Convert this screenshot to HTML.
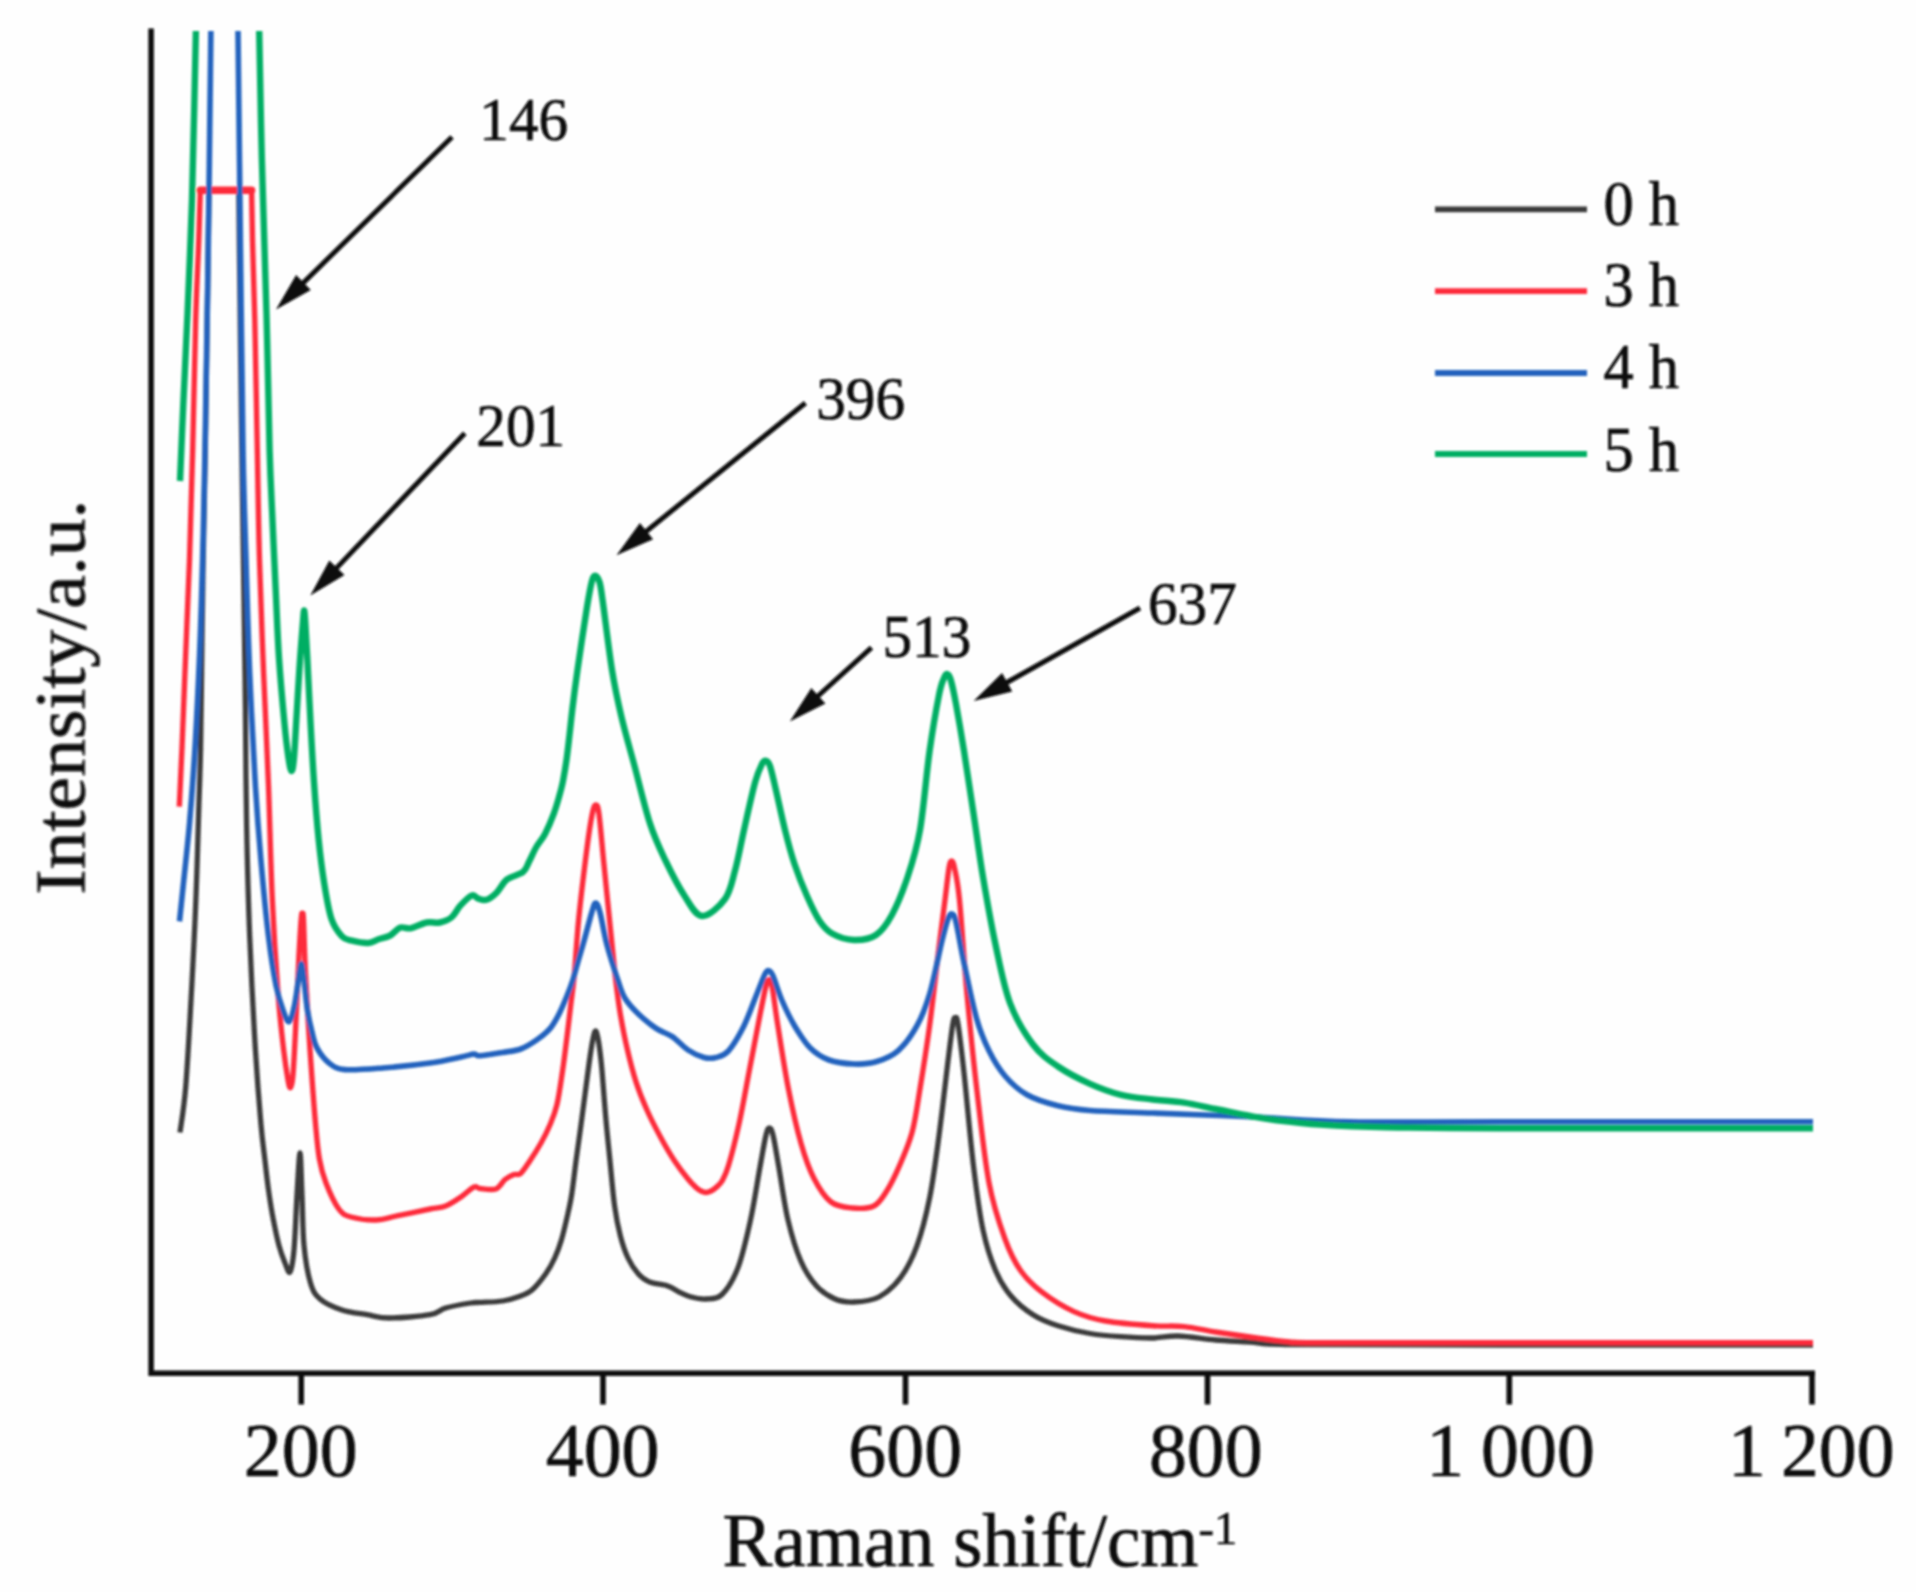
<!DOCTYPE html>
<html lang="en"><head><meta charset="utf-8"><title>Raman spectra</title>
<style>html,body{margin:0;padding:0;background:#fefefe;overflow:hidden}svg{display:block}</style>
</head><body>
<svg width="1916" height="1592" viewBox="0 0 1916 1592">
<defs><filter id="soft" x="0" y="0" width="100%" height="100%" filterUnits="userSpaceOnUse"><feGaussianBlur stdDeviation="0.9"/></filter></defs>
<rect width="1916" height="1592" fill="#fefefe"/>
<g filter="url(#soft)">
<g fill="none" stroke-linejoin="round" stroke-linecap="butt">
<path d="M180.0 1132.5C180.9 1124.9 183.8 1110.2 185.7 1087.0C187.6 1063.8 189.7 1024.3 191.4 993.0C193.1 961.7 194.7 930.4 195.9 899.0C197.2 867.6 198.1 829.9 198.9 804.7C199.7 779.5 200.1 773.1 200.6 748.0C201.1 722.9 201.4 685.3 201.8 654.0C202.2 622.7 202.6 594.0 203.2 560.0C203.8 526.0 204.5 501.7 205.3 450.0C206.1 398.3 207.6 292.8 208.2 250.0C208.8 207.2 208.8 202.5 208.9 193.0M238.8 193.0C238.9 202.5 238.9 207.2 239.4 250.0C239.9 292.8 241.0 391.7 241.8 450.0C242.6 508.3 243.4 556.7 244.0 600.0C244.6 643.3 245.0 672.8 245.4 710.0C245.8 747.2 245.9 785.8 246.6 823.5C247.3 861.2 248.2 898.8 249.7 936.5C251.2 974.2 253.5 1018.1 255.4 1049.5C257.3 1080.9 259.4 1106.5 261.0 1124.7C262.6 1143.0 263.6 1148.1 264.8 1159.0C266.1 1169.9 267.1 1180.2 268.5 1190.0C269.9 1199.8 271.2 1208.7 273.0 1218.0C274.8 1227.3 277.0 1238.1 279.0 1245.6C281.0 1253.1 283.2 1258.6 285.0 1263.0C286.8 1267.4 288.5 1274.2 290.0 1272.0C291.5 1269.8 292.8 1262.8 294.0 1250.0C295.2 1237.2 296.0 1211.2 297.0 1195.0C298.0 1178.8 299.2 1153.0 300.0 1153.0C300.8 1153.0 301.3 1179.6 302.0 1195.0C302.7 1210.4 302.6 1230.9 304.0 1245.6C305.4 1260.3 307.8 1274.1 310.5 1283.0C313.2 1291.9 314.8 1294.5 320.0 1299.0C325.2 1303.5 334.2 1307.4 342.0 1310.0C349.8 1312.6 359.2 1313.4 367.0 1314.7C374.8 1316.0 378.5 1318.0 389.0 1318.0C399.5 1318.0 420.6 1316.4 430.0 1314.7C439.4 1313.0 438.8 1310.0 445.6 1308.0C452.4 1306.0 465.0 1303.9 470.7 1303.0C476.4 1302.1 474.7 1302.7 480.0 1302.4C485.3 1302.1 496.2 1302.0 502.6 1301.0C509.0 1300.0 513.6 1298.5 518.5 1296.7C523.4 1294.9 527.5 1293.8 532.0 1290.0C536.5 1286.2 541.8 1279.3 545.6 1274.0C549.4 1268.7 552.1 1263.7 554.7 1258.0C557.3 1252.3 559.4 1246.8 561.4 1240.0C563.4 1233.2 565.3 1225.0 567.0 1217.5C568.7 1210.0 570.1 1204.4 571.6 1195.0C573.1 1185.6 574.5 1172.3 576.0 1161.0C577.5 1149.7 579.2 1138.3 580.7 1127.0C582.2 1115.7 583.7 1104.3 585.2 1093.0C586.7 1081.7 588.4 1068.0 589.7 1059.0C591.0 1050.0 592.0 1043.5 593.0 1038.8C594.0 1034.1 594.8 1030.3 595.8 1031.0C596.8 1031.7 597.8 1036.4 598.8 1043.0C599.8 1049.6 600.9 1058.4 602.0 1070.5C603.1 1082.6 604.3 1100.6 605.6 1115.7C606.9 1130.8 608.5 1146.0 610.0 1161.0C611.5 1176.0 612.9 1193.6 614.6 1206.0C616.3 1218.4 618.1 1226.9 620.3 1235.6C622.5 1244.3 625.0 1251.6 628.0 1258.0C631.0 1264.4 634.8 1270.0 638.4 1274.0C642.0 1278.0 644.8 1280.0 649.7 1282.0C654.6 1284.0 662.9 1284.2 667.8 1285.9C672.7 1287.6 675.2 1290.2 679.0 1292.0C682.8 1293.8 685.9 1295.5 690.4 1296.7C694.9 1297.9 700.7 1299.4 706.0 1299.0C711.3 1298.6 716.7 1299.7 722.0 1294.5C727.3 1289.3 733.2 1280.0 738.0 1267.6C742.8 1255.2 746.8 1236.8 750.5 1220.0C754.2 1203.2 757.4 1181.2 760.0 1167.0C762.6 1152.8 764.4 1141.5 766.0 1135.0C767.6 1128.5 768.2 1127.8 769.4 1127.8C770.6 1127.8 771.4 1128.5 773.0 1135.0C774.6 1141.5 776.3 1152.8 778.8 1167.0C781.3 1181.2 784.3 1204.3 788.0 1220.0C791.7 1235.7 796.0 1250.0 800.8 1261.0C805.5 1272.0 810.8 1279.7 816.5 1286.0C822.2 1292.3 828.8 1296.3 835.0 1299.0C841.2 1301.7 846.7 1302.3 854.0 1302.0C861.3 1301.7 871.2 1301.2 879.0 1297.0C886.8 1292.8 894.7 1285.6 901.0 1277.0C907.3 1268.4 912.2 1258.8 917.0 1245.6C921.8 1232.4 925.9 1216.3 929.6 1198.0C933.3 1179.7 935.9 1159.1 939.0 1135.6C942.1 1112.1 946.2 1075.8 948.5 1057.0C950.8 1038.2 951.9 1029.5 953.0 1023.0C954.1 1016.5 954.6 1017.6 955.4 1017.8C956.2 1018.0 956.6 1014.8 958.0 1024.0C959.4 1033.2 961.4 1049.0 964.0 1072.8C966.6 1096.6 970.4 1140.8 973.6 1167.0C976.8 1193.2 979.3 1212.7 983.0 1230.0C986.7 1247.3 990.9 1259.7 995.6 1270.7C1000.3 1281.7 1004.8 1288.7 1011.0 1296.0C1017.2 1303.3 1025.2 1309.8 1033.0 1314.7C1040.8 1319.7 1048.5 1322.6 1058.0 1325.7C1067.5 1328.8 1079.5 1331.7 1090.0 1333.5C1100.5 1335.3 1110.5 1336.0 1121.0 1336.7C1131.5 1337.5 1143.2 1338.1 1152.7 1338.0C1162.2 1337.9 1167.5 1335.7 1178.0 1336.0C1188.5 1336.3 1203.5 1339.0 1215.5 1340.0C1227.5 1341.0 1237.1 1341.2 1250.0 1342.0C1262.9 1342.8 1251.3 1344.1 1293.0 1344.6C1334.7 1345.1 1413.3 1344.9 1500.0 1345.0C1586.7 1345.1 1760.8 1345.0 1813.0 1345.0" stroke="#3b3b3b" stroke-width="5.3"/>
<path d="M179.3 806.6C179.8 796.8 180.9 773.4 182.0 748.0C183.1 722.6 184.4 685.3 185.7 654.0C186.9 622.7 188.3 594.0 189.5 560.0C190.7 526.0 191.7 490.0 192.7 450.0C193.7 410.0 194.7 355.0 195.7 320.0C196.7 285.0 198.0 261.6 198.8 240.0C199.6 218.4 200.1 198.5 200.3 190.2L251.6 190.2L252.5 240.0C252.9 253.3 254.0 285.0 254.8 320.0C255.6 355.0 256.5 410.0 257.3 450.0C258.1 490.0 258.4 522.8 259.5 560.0C260.6 597.2 262.1 635.3 263.6 673.0C265.1 710.7 267.1 748.3 268.5 786.0C269.9 823.7 270.7 864.5 272.3 899.0C273.9 933.5 276.1 967.9 278.0 993.0C279.9 1018.1 281.9 1035.0 283.6 1049.5C285.3 1064.0 286.9 1073.7 288.0 1080.0C289.1 1086.3 289.7 1088.3 290.5 1087.5C291.3 1086.7 292.2 1084.5 293.0 1075.0C293.8 1065.5 294.5 1050.6 295.5 1030.6C296.5 1010.6 298.0 973.8 299.0 955.0C300.0 936.2 300.7 924.8 301.3 918.0C301.9 911.2 302.0 913.7 302.4 914.0C302.8 914.3 303.0 910.0 303.5 920.0C304.0 930.0 304.4 952.4 305.5 974.0C306.6 995.6 308.3 1024.4 310.0 1049.5C311.7 1074.6 314.0 1106.5 315.6 1124.7C317.2 1143.0 317.7 1149.3 319.4 1159.0C321.1 1168.7 322.8 1174.7 326.0 1183.0C329.2 1191.3 334.6 1203.3 338.8 1209.0C343.0 1214.7 344.8 1215.2 351.0 1217.0C357.2 1218.8 368.2 1220.2 376.0 1220.0C383.8 1219.8 389.0 1217.5 398.0 1215.7C407.0 1213.9 422.1 1210.6 430.0 1209.0C437.9 1207.4 440.4 1208.0 445.6 1206.0C450.8 1204.0 456.3 1200.2 461.0 1197.0C465.7 1193.8 470.8 1188.4 474.0 1187.0C477.2 1185.6 476.4 1188.2 480.0 1188.5C483.6 1188.8 491.6 1190.5 495.8 1189.0C500.0 1187.5 502.0 1181.9 505.0 1179.5C508.0 1177.1 511.4 1175.6 514.0 1174.6C516.6 1173.6 518.1 1175.7 520.7 1173.4C523.3 1171.1 526.4 1166.1 529.8 1161.0C533.2 1155.9 537.6 1149.0 541.0 1143.0C544.4 1137.0 547.3 1131.2 550.0 1124.8C552.7 1118.4 554.9 1113.5 557.0 1104.4C559.1 1095.4 560.9 1081.8 562.6 1070.5C564.3 1059.2 565.6 1047.8 567.0 1036.6C568.4 1025.3 569.8 1013.3 571.0 1003.0C572.2 992.7 573.0 989.2 574.3 975.0C575.6 960.8 576.7 939.2 578.8 918.0C580.9 896.8 584.8 865.1 587.0 847.8C589.2 830.5 590.8 821.1 592.2 814.0C593.7 806.9 594.6 805.0 595.7 805.0C596.8 805.0 597.6 804.0 599.0 814.0C600.4 824.0 602.0 845.0 604.0 864.7C606.0 884.5 608.8 913.3 610.8 932.5C612.8 951.7 614.1 966.4 615.7 980.0C617.3 993.6 618.4 1002.7 620.3 1014.0C622.2 1025.3 624.4 1036.6 627.0 1047.9C629.6 1059.2 632.6 1071.3 636.0 1081.8C639.4 1092.3 643.2 1101.6 647.4 1111.0C651.6 1120.4 656.5 1129.7 661.0 1138.0C665.5 1146.3 670.1 1154.2 674.6 1161.0C679.1 1167.8 684.4 1174.6 688.0 1179.0C691.6 1183.4 693.8 1185.5 696.0 1187.5C698.2 1189.5 699.8 1190.5 701.5 1191.3C703.2 1192.1 704.4 1192.5 706.0 1192.5C707.6 1192.5 709.3 1191.8 711.0 1191.0C712.7 1190.2 714.2 1189.2 716.0 1187.5C717.8 1185.8 719.9 1184.7 722.0 1181.0C724.1 1177.3 725.6 1175.3 728.5 1165.6C731.4 1155.9 735.6 1139.4 739.2 1123.0C742.8 1106.6 746.4 1085.5 750.0 1067.0C753.6 1048.5 757.9 1025.3 760.6 1011.8C763.3 998.3 764.6 991.4 766.0 986.0C767.4 980.6 768.0 979.7 769.0 979.7C770.0 979.7 770.5 978.5 772.0 986.0C773.5 993.5 775.0 1007.5 777.7 1024.6C780.4 1041.7 784.5 1068.8 788.4 1088.7C792.3 1108.6 796.9 1129.0 801.2 1144.0C805.5 1159.0 809.0 1168.8 814.0 1178.5C819.0 1188.2 824.6 1197.1 831.0 1202.0C837.4 1206.9 845.4 1207.3 852.5 1208.0C859.6 1208.7 868.1 1208.8 873.8 1206.0C879.5 1203.2 882.4 1197.7 886.7 1191.0C891.0 1184.3 895.2 1175.5 899.5 1165.6C903.8 1155.7 908.9 1144.3 912.3 1131.5C915.7 1118.7 917.1 1106.3 920.0 1088.7C922.9 1071.1 926.4 1049.3 929.6 1025.7C932.8 1002.1 936.4 968.0 939.0 947.0C941.6 926.0 943.3 913.2 945.0 900.0C946.7 886.8 947.9 874.5 949.0 868.0C950.1 861.5 950.7 861.0 951.6 861.0C952.5 861.0 953.2 861.5 954.5 868.0C955.8 874.5 957.4 879.0 959.5 900.0C961.6 921.0 964.1 962.6 967.0 994.0C969.9 1025.4 973.0 1057.0 976.7 1088.5C980.4 1120.0 984.3 1157.6 989.0 1182.7C993.7 1207.8 999.7 1224.3 1005.0 1239.0C1010.3 1253.7 1014.4 1261.8 1020.7 1270.7C1027.0 1279.7 1033.8 1285.9 1042.7 1292.7C1051.6 1299.5 1063.5 1306.9 1074.0 1311.6C1084.5 1316.3 1092.4 1318.7 1105.5 1321.0C1118.6 1323.3 1139.6 1324.8 1152.7 1325.7C1165.8 1326.6 1173.5 1325.5 1184.0 1326.6C1194.5 1327.6 1204.5 1330.3 1215.5 1332.0C1226.5 1333.7 1237.6 1335.3 1250.0 1337.0C1262.4 1338.7 1276.7 1341.0 1290.0 1342.0C1303.3 1343.0 1295.0 1342.7 1330.0 1342.8C1365.0 1342.9 1419.5 1342.8 1500.0 1342.8C1580.5 1342.8 1760.8 1342.8 1813.0 1342.8" stroke="#fd2a3b" stroke-width="5.4"/>
<path d="M200.3 190.2H251.6" stroke="#fd2a3b" stroke-width="7.4" stroke-linecap="round"/>
<path d="M179.5 921.4C180.2 914.5 182.1 896.3 183.8 880.0C185.5 863.7 187.6 845.5 189.5 823.5C191.4 801.5 193.3 776.2 195.0 748.0C196.7 719.8 198.3 685.3 199.6 654.0C200.9 622.7 201.7 594.0 202.6 560.0C203.5 526.0 204.1 501.7 205.0 450.0C205.9 398.3 207.2 319.8 208.2 250.0C209.2 180.2 210.4 67.5 210.9 31.0M238.0 31.0C238.4 67.5 239.7 180.2 240.5 250.0C241.3 319.8 242.1 398.3 243.0 450.0C243.9 501.7 244.9 522.8 246.0 560.0C247.1 597.2 248.1 635.3 249.7 673.0C251.3 710.7 253.5 754.7 255.4 786.0C257.3 817.3 258.8 835.9 261.0 861.0C263.2 886.1 266.0 915.8 268.5 936.5C271.0 957.2 273.5 973.0 276.0 985.5C278.5 998.0 281.4 1005.8 283.6 1011.8C285.8 1017.8 287.4 1022.9 289.3 1021.5C291.2 1020.1 293.1 1012.0 294.8 1003.7C296.5 995.5 298.4 978.5 299.5 972.0C300.6 965.5 300.9 962.8 301.7 964.4C302.5 966.0 303.2 974.1 304.2 981.7C305.1 989.3 306.1 1001.6 307.4 1010.0C308.7 1018.4 310.4 1025.7 312.0 1032.0C313.6 1038.3 314.0 1042.5 316.8 1047.7C319.6 1052.9 324.3 1059.3 329.0 1063.0C333.7 1066.7 336.1 1068.8 345.0 1069.6C353.9 1070.4 368.5 1069.1 382.7 1068.0C396.9 1066.9 416.9 1064.8 430.0 1063.0C443.1 1061.2 454.0 1058.5 461.3 1057.0C468.6 1055.5 470.9 1054.2 474.0 1054.0C477.1 1053.8 475.2 1056.1 480.0 1055.8C484.8 1055.5 495.8 1053.5 502.6 1052.4C509.4 1051.3 515.0 1051.1 520.7 1049.0C526.4 1046.9 531.7 1043.4 536.6 1040.0C541.5 1036.6 546.3 1032.9 550.0 1028.6C553.7 1024.3 556.2 1019.5 559.0 1014.0C561.8 1008.5 564.7 1001.5 567.0 995.8C569.3 990.1 570.9 986.0 572.8 980.0C574.7 974.0 576.6 966.5 578.5 960.0C580.4 953.5 581.8 948.9 584.0 941.0C586.2 933.1 589.8 918.9 591.7 912.6C593.7 906.3 594.3 903.0 595.7 903.0C597.1 903.0 598.3 906.3 600.0 912.6C601.7 918.9 604.0 932.8 606.0 941.0C608.0 949.2 610.0 955.4 612.0 962.0C614.0 968.6 615.9 974.5 618.0 980.5C620.1 986.5 621.4 992.4 624.8 998.0C628.2 1003.6 633.1 1008.9 638.4 1014.0C643.7 1019.1 650.9 1024.8 656.5 1028.6C662.1 1032.4 667.0 1033.0 672.3 1036.6C677.5 1040.2 682.7 1046.5 688.0 1050.0C693.3 1053.5 699.3 1056.2 704.0 1057.5C708.7 1058.8 711.9 1058.6 716.0 1057.5C720.1 1056.4 723.8 1056.1 728.5 1050.8C733.2 1045.5 739.3 1035.2 744.0 1025.7C748.7 1016.2 753.3 1002.6 756.8 994.0C760.3 985.4 763.0 977.9 765.0 974.0C767.0 970.1 767.5 970.4 768.8 970.7C770.1 971.0 770.8 971.0 773.0 976.0C775.2 981.0 778.4 992.2 782.0 1000.5C785.6 1008.8 789.8 1017.8 794.5 1025.7C799.2 1033.6 804.2 1042.0 810.0 1047.7C815.8 1053.4 821.7 1057.3 829.0 1060.0C836.3 1062.7 846.2 1063.7 854.0 1064.0C861.8 1064.3 868.7 1064.0 876.0 1061.8C883.3 1059.6 891.2 1056.8 898.0 1050.8C904.8 1044.8 911.7 1035.2 917.0 1025.7C922.3 1016.2 925.4 1008.1 929.6 994.0C933.8 979.9 938.9 953.3 942.0 940.8C945.1 928.3 946.3 923.5 948.0 919.0C949.7 914.5 950.7 913.5 952.0 914.0C953.3 914.5 954.0 913.9 956.0 922.0C958.0 930.1 960.5 946.6 964.0 962.8C967.5 979.0 972.5 1004.3 976.7 1019.0C980.9 1033.7 984.3 1041.3 989.0 1050.8C993.7 1060.3 998.7 1068.7 1005.0 1076.0C1011.3 1083.3 1018.2 1089.8 1027.0 1094.8C1035.8 1099.8 1047.5 1103.2 1058.0 1105.8C1068.5 1108.4 1074.2 1109.3 1090.0 1110.5C1105.8 1111.7 1126.0 1112.0 1152.7 1113.0C1179.4 1114.0 1217.1 1115.3 1250.0 1116.8C1282.9 1118.3 1308.3 1121.0 1350.0 1121.8C1391.7 1122.6 1422.8 1121.8 1500.0 1121.8C1577.2 1121.8 1760.8 1121.8 1813.0 1121.8" stroke="#2262bd" stroke-width="5.6"/>
<path d="M180.0 481.0C180.6 467.5 182.2 427.8 183.5 400.0C184.8 372.2 186.1 347.3 187.5 314.0C188.9 280.7 190.9 234.0 192.0 200.0C193.1 166.0 193.5 138.2 194.2 110.0C194.8 81.8 195.6 44.2 195.9 31.0M259.2 31.0C259.6 52.0 260.6 109.8 261.8 157.0C263.0 204.2 265.2 265.2 266.5 314.0C267.8 362.8 268.6 415.7 269.6 450.0C270.6 484.3 271.5 496.7 272.5 520.0C273.5 543.3 274.6 567.0 275.7 590.0C276.8 613.0 277.5 635.4 279.0 658.0C280.5 680.6 283.1 709.0 284.7 725.7C286.3 742.4 287.4 750.5 288.5 758.0C289.6 765.5 290.6 770.7 291.5 771.0C292.4 771.3 293.1 767.5 293.8 760.0C294.6 752.5 295.1 740.9 296.0 725.7C296.9 710.5 298.3 686.0 299.4 669.0C300.5 652.0 302.0 633.8 302.8 624.0C303.6 614.2 303.7 610.4 304.1 610.4C304.5 610.4 304.9 616.1 305.4 624.0C305.9 631.9 306.4 641.0 307.3 658.0C308.2 675.0 309.6 705.0 310.7 725.7C311.8 746.4 312.7 763.1 314.0 782.0C315.3 800.9 316.9 822.0 318.6 839.0C320.3 856.0 322.2 870.8 324.3 884.0C326.4 897.2 328.4 909.8 331.3 918.5C334.2 927.2 338.6 932.7 342.0 936.4C345.4 940.1 347.6 939.6 352.0 940.7C356.4 941.8 363.8 943.2 368.2 943.0C372.6 942.8 374.9 940.5 378.5 939.3C382.1 938.1 386.4 937.5 390.0 935.6C393.6 933.7 397.0 928.8 400.4 927.6C403.8 926.4 406.2 929.1 410.6 928.3C415.0 927.4 421.8 923.5 426.7 922.5C431.6 921.5 435.7 923.4 439.8 922.5C443.9 921.6 448.1 920.2 451.5 917.4C454.9 914.6 456.9 909.4 460.3 905.7C463.7 902.0 469.1 896.6 472.0 895.4C474.9 894.2 475.4 897.7 477.8 898.4C480.2 899.1 483.4 900.8 486.6 899.8C489.8 898.8 493.4 895.9 496.8 892.5C500.2 889.1 502.6 882.8 507.0 879.4C511.4 876.0 519.3 874.9 523.0 872.0C526.7 869.1 526.8 866.0 529.0 861.8C531.2 857.6 533.6 851.6 536.3 847.0C539.0 842.4 542.1 839.6 545.0 834.0C547.9 828.4 551.5 819.8 553.8 813.6C556.1 807.4 557.5 802.4 559.0 797.0C560.5 791.6 561.8 787.2 563.0 781.0C564.2 774.8 565.4 767.7 566.5 760.0C567.6 752.3 568.5 743.7 569.5 735.0C570.5 726.3 571.2 718.8 572.5 708.0C573.8 697.2 575.1 686.8 577.5 670.0C579.9 653.2 584.6 621.7 587.0 607.0C589.4 592.3 590.4 587.2 591.7 582.0C593.0 576.8 593.7 575.7 595.0 575.7C596.3 575.7 598.2 577.8 599.5 582.0C600.8 586.2 600.6 586.3 602.7 601.0C604.8 615.7 608.9 650.7 612.0 670.0C615.1 689.3 617.8 701.3 621.5 717.0C625.2 732.7 629.2 746.2 634.0 764.0C638.8 781.8 644.7 807.4 650.0 823.6C655.3 839.8 659.9 848.9 665.7 861.0C671.5 873.1 678.6 886.8 684.6 896.0C690.6 905.2 695.3 915.5 702.0 916.0C708.7 916.5 719.5 906.5 725.0 899.0C730.5 891.5 731.8 882.2 735.0 870.7C738.2 859.2 740.7 844.7 744.0 830.0C747.3 815.3 752.0 793.7 755.0 782.7C758.0 771.7 760.2 767.6 762.0 764.0C763.8 760.4 764.7 760.5 766.0 760.8C767.3 761.1 768.4 761.3 770.0 766.0C771.6 770.7 773.2 778.3 775.7 789.0C778.2 799.7 781.9 817.5 785.0 830.0C788.1 842.5 790.8 853.0 794.5 864.0C798.2 875.0 802.8 886.5 807.0 896.0C811.2 905.5 815.4 914.8 819.6 921.0C823.8 927.2 826.3 930.3 832.0 933.5C837.7 936.7 846.7 939.8 854.0 940.0C861.3 940.2 869.7 939.2 876.0 935.0C882.3 930.8 886.7 924.4 892.0 914.7C897.3 905.0 902.9 891.1 907.6 877.0C912.3 862.9 916.3 851.0 920.0 830.0C923.7 809.0 926.4 773.5 929.6 751.0C932.8 728.5 936.6 707.2 939.0 695.0C941.4 682.8 942.7 681.5 944.0 678.0C945.3 674.5 945.9 673.8 947.0 674.0C948.1 674.2 949.0 674.0 950.5 679.0C952.0 684.0 953.8 692.0 956.0 704.0C958.2 716.0 961.1 732.7 964.0 751.0C966.9 769.3 970.4 793.0 973.6 814.0C976.8 835.0 979.3 855.2 983.0 877.0C986.7 898.8 991.1 924.0 995.6 945.0C1000.1 966.0 1003.8 986.4 1010.0 1003.0C1016.2 1019.6 1025.0 1033.9 1033.0 1044.5C1041.0 1055.1 1048.5 1060.0 1058.0 1066.5C1067.5 1073.0 1079.5 1079.1 1090.0 1083.8C1100.5 1088.5 1110.5 1092.2 1121.0 1094.8C1131.5 1097.4 1142.2 1098.2 1152.7 1099.5C1163.2 1100.8 1173.5 1101.0 1184.0 1102.6C1194.5 1104.2 1204.5 1106.8 1215.5 1109.0C1226.5 1111.2 1240.1 1114.2 1250.0 1116.0C1259.9 1117.8 1263.3 1118.6 1275.0 1120.0C1286.7 1121.4 1301.3 1123.3 1320.0 1124.5C1338.7 1125.7 1357.0 1126.6 1387.0 1127.2C1417.0 1127.8 1429.0 1128.0 1500.0 1128.2C1571.0 1128.4 1760.8 1128.2 1813.0 1128.2" stroke="#06ae63" stroke-width="6.4"/>
</g>
<g stroke="#0d0d0d" stroke-width="5.6" fill="none">
<path d="M151.1 28.5V1373.2H1815"/>
<path d="M301.2 1373.2V1404.5"/>
<path d="M603.0 1373.2V1404.5"/>
<path d="M905.5 1373.2V1404.5"/>
<path d="M1207.5 1373.2V1404.5"/>
<path d="M1509.3 1373.2V1404.5"/>
<path d="M1812.0 1373.2V1404.5"/>
</g>
<line x1="452.0" y1="137.0" x2="302.1" y2="284.0" stroke="#0d0d0d" stroke-width="5.0"/><polygon points="276.0,309.5 296.1,275.1 310.8,290.0" fill="#0d0d0d"/>
<line x1="464.8" y1="433.3" x2="335.5" y2="569.1" stroke="#0d0d0d" stroke-width="5.0"/><polygon points="310.3,595.5 329.3,560.4 344.5,574.9" fill="#0d0d0d"/>
<line x1="805.4" y1="403.0" x2="644.9" y2="532.4" stroke="#0d0d0d" stroke-width="5.0"/><polygon points="616.5,555.3 639.9,523.0 653.1,539.3" fill="#0d0d0d"/>
<line x1="871.5" y1="647.7" x2="816.9" y2="697.0" stroke="#0d0d0d" stroke-width="5.0"/><polygon points="789.8,721.5 811.3,687.9 825.4,703.5" fill="#0d0d0d"/>
<line x1="1140.0" y1="608.0" x2="1005.5" y2="683.2" stroke="#0d0d0d" stroke-width="5.0"/><polygon points="973.6,701.0 1002.1,673.1 1012.3,691.4" fill="#0d0d0d"/>
<g stroke-width="5.8" fill="none">
<path d="M1435 209.4H1587" stroke="#3b3b3b"/>
<path d="M1435 291.2H1587" stroke="#fd2a3b"/>
<path d="M1435 373.0H1587" stroke="#2262bd"/>
<path d="M1435 454.0H1587" stroke="#06ae63"/>
</g>
<g font-family="'Liberation Serif', 'Times New Roman', serif" fill="#0d0d0d" stroke="#0d0d0d" stroke-width="0.7">
<text transform="translate(1603.5 224.6) scale(0.960 1)" font-size="63.0" text-anchor="start">0 h</text>
<text transform="translate(1603.5 306.0) scale(0.960 1)" font-size="63.0" text-anchor="start">3 h</text>
<text transform="translate(1603.5 388.4) scale(0.960 1)" font-size="63.0" text-anchor="start">4 h</text>
<text transform="translate(1603.5 470.6) scale(0.960 1)" font-size="63.0" text-anchor="start">5 h</text>
<text transform="translate(479.3 139.8) scale(0.955 1)" font-size="62.0" text-anchor="start">146</text>
<text transform="translate(476.3 445.5) scale(0.955 1)" font-size="62.0" text-anchor="start">201</text>
<text transform="translate(816.2 418.8) scale(0.955 1)" font-size="62.0" text-anchor="start">396</text>
<text transform="translate(882.5 657.0) scale(0.955 1)" font-size="62.0" text-anchor="start">513</text>
<text transform="translate(1148.0 624.0) scale(0.955 1)" font-size="62.0" text-anchor="start">637</text>
<text transform="translate(300.7 1476.0) scale(0.985 1)" word-spacing="0" font-size="77.0" text-anchor="middle">200</text>
<text transform="translate(602.6 1476.0) scale(0.985 1)" word-spacing="0" font-size="77.0" text-anchor="middle">400</text>
<text transform="translate(905.2 1476.0) scale(0.985 1)" word-spacing="0" font-size="77.0" text-anchor="middle">600</text>
<text transform="translate(1205.8 1476.0) scale(0.985 1)" word-spacing="0" font-size="77.0" text-anchor="middle">800</text>
<text transform="translate(1510.5 1476.0) scale(0.985 1)" word-spacing="-2" font-size="77.0" text-anchor="middle">1 000</text>
<text transform="translate(1811.3 1476.0) scale(0.985 1)" word-spacing="-4" font-size="77.0" text-anchor="middle">1 200</text>
<text transform="translate(722.5 1566.0) scale(0.985 1)" font-size="76.0" text-anchor="start">Raman shift/cm<tspan font-size="47" dy="-22">-1</tspan></text>
<text transform="translate(84.6 894.5) rotate(-90) scale(1.045 1)" font-size="72.4">Intensity/a.u.</text>
</g>
</g>
</svg>
</body></html>
